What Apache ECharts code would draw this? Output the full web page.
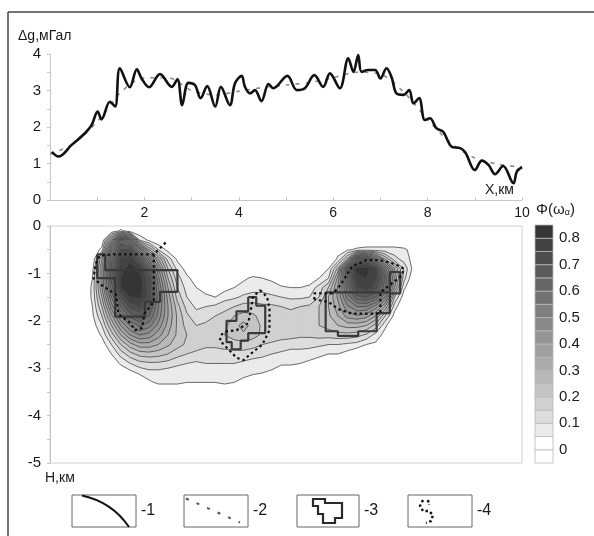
<!DOCTYPE html>
<html><head><meta charset="utf-8">
<script src="https://cdn.jsdelivr.net/npm/echarts@6/dist/echarts.min.js"></script>
<style>html,body{margin:0;padding:0;background:#fff}#c{width:594px;height:536px}</style>
</head><body><div id="c"></div>
<script>
// ---- top profile: observed (solid, -1) and model (dashed, -2) gravity, mGal
const solidX = [0.04,0.18,0.46,0.74,0.88,1.01,1.09,1.27,1.38,1.48,1.69,1.84,1.94,2.10,2.33,2.58,2.70,2.80,2.93,3.07,3.19,3.33,3.50,3.62,3.81,3.92,4.06,4.13,4.24,4.34,4.48,4.63,4.73,5.03,5.23,5.40,5.60,5.79,5.93,6.14,6.32,6.43,6.53,6.60,6.74,6.89,7.00,7.13,7.24,7.34,7.49,7.61,7.70,7.82,7.94,8.05,8.19,8.33,8.51,8.69,8.80,9.00,9.15,9.29,9.43,9.60,9.82,9.89,10.0];
const solidG = [1.32,1.19,1.51,1.83,2.05,2.42,2.21,2.69,2.56,3.61,3.09,3.58,3.33,3.09,3.45,3.10,3.31,2.60,3.21,3.15,2.79,3.12,2.56,3.10,2.60,3.20,3.40,3.10,2.92,3.01,2.71,3.18,3.06,3.40,3.01,3.06,3.42,3.10,3.47,3.06,3.88,3.51,3.97,3.51,3.56,3.56,3.33,3.61,3.35,2.92,2.88,3.01,2.65,2.79,2.19,2.24,1.96,1.87,1.46,1.42,1.30,0.82,1.08,0.96,0.71,0.93,0.46,0.78,0.90];
const dashedX = [0,0.5,1.0,1.5,2.0,2.5,3.0,3.5,4.0,4.5,5.0,5.5,6.0,6.5,7.0,7.5,8.0,8.5,9.0,9.5,10.0];
const dashedG = [1.25,1.55,2.15,2.95,3.35,3.35,3.0,2.88,2.98,3.08,3.15,3.22,3.35,3.5,3.45,2.95,2.2,1.55,1.15,0.98,0.9];

// ---- section: Phi(omega) values on a 0.2 km grid (node positions)
const gridX = [0.9,1.1,1.3,1.5,1.7,1.9,2.1,2.3,2.5,2.7,2.9,3.1,3.3,3.5,3.7,3.9,4.1,4.3,4.5,4.7,4.9,5.1,5.3,5.5,5.7,5.9,6.1,6.3,6.5,6.7,6.9,7.1,7.3,7.5,7.7];
const gridY = [-0.1,-0.3,-0.5,-0.7,-0.9,-1.1,-1.3,-1.5,-1.7,-1.9,-2.1,-2.3,-2.5,-2.7,-2.9,-3.1,-3.3];
const phi = [
 [0,0,0,0.06,0,0,0,0,0,0, 0,0,0,0,0,0,0,0,0,0, 0,0,0,0,0,0,0,0,0,0, 0,0,0,0,0],
 [0,0,0.3,0.62,0.52,0.1,0.04,0,0,0, 0,0,0,0,0,0,0,0,0,0, 0,0,0,0,0,0,0,0,0,0, 0,0,0,0,0],
 [0,0.07,0.48,0.7,0.7,0.48,0.25,0.1,0.03,0, 0,0,0,0,0,0,0,0,0,0, 0,0,0,0,0,0,0.03,0.04,0.06,0.07, 0.07,0.07,0.07,0.06,0.03],
 [0,0.25,0.58,0.76,0.78,0.68,0.5,0.3,0.13,0.04, 0,0,0,0,0,0,0,0,0,0, 0,0,0,0,0,0,0.06,0.22,0.6,0.64, 0.45,0.25,0.12,0.08,0.03],
 [0.03,0.3,0.62,0.78,0.83,0.78,0.62,0.4,0.2,0.08, 0.03,0,0,0,0,0,0,0,0,0, 0,0,0,0,0,0.05,0.22,0.64,0.83,0.83, 0.75,0.52,0.3,0.14,0.03],
 [0.05,0.3,0.62,0.8,0.85,0.83,0.7,0.46,0.25,0.12, 0.06,0.03,0,0,0,0,0.04,0.06,0.05,0.04, 0,0,0,0,0.05,0.1,0.32,0.6,0.78,0.8, 0.76,0.6,0.35,0.12,0],
 [0.06,0.3,0.57,0.8,0.85,0.84,0.72,0.5,0.3,0.15, 0.08,0.05,0.03,0,0.03,0.05,0.07,0.08,0.08,0.07, 0.06,0.05,0.05,0.07,0.12,0.2,0.36,0.58,0.74,0.78, 0.72,0.56,0.3,0.06,0],
 [0.06,0.25,0.5,0.7,0.8,0.81,0.72,0.52,0.33,0.18, 0.1,0.07,0.06,0.05,0.08,0.09,0.11,0.12,0.12,0.11, 0.1,0.09,0.09,0.1,0.15,0.25,0.36,0.52,0.63,0.65, 0.6,0.45,0.15,0.02,0],
 [0.05,0.2,0.42,0.6,0.72,0.74,0.66,0.5,0.35,0.22, 0.13,0.09,0.1,0.11,0.13,0.15,0.17,0.17,0.16,0.16, 0.15,0.14,0.15,0.16,0.2,0.25,0.33,0.44,0.5,0.5, 0.43,0.3,0.07,0,0],
 [0.04,0.15,0.33,0.5,0.62,0.66,0.6,0.48,0.35,0.24, 0.16,0.12,0.13,0.15,0.17,0.2,0.22,0.21,0.18,0.17, 0.17,0.17,0.17,0.18,0.2,0.24,0.3,0.37,0.39,0.37, 0.3,0.15,0.03,0,0],
 [0.02,0.1,0.25,0.4,0.5,0.56,0.52,0.43,0.33,0.24, 0.18,0.15,0.16,0.17,0.19,0.23,0.27,0.23,0.19,0.18, 0.18,0.18,0.17,0.18,0.2,0.22,0.25,0.27,0.27,0.25, 0.18,0.06,0,0,0],
 [0,0.06,0.17,0.3,0.4,0.45,0.43,0.37,0.3,0.24, 0.2,0.18,0.17,0.18,0.2,0.22,0.24,0.22,0.19,0.18, 0.17,0.17,0.16,0.16,0.17,0.17,0.18,0.18,0.17,0.14, 0.08,0.03,0,0,0],
 [0,0.02,0.1,0.2,0.28,0.33,0.33,0.3,0.26,0.22, 0.19,0.17,0.16,0.16,0.17,0.18,0.18,0.17,0.15,0.14, 0.13,0.12,0.12,0.12,0.11,0.1,0.1,0.09,0.08,0.05, 0.04,0,0,0,0],
 [0,0,0.05,0.12,0.18,0.22,0.23,0.22,0.2,0.17, 0.15,0.14,0.13,0.13,0.13,0.13,0.13,0.12,0.11,0.1, 0.09,0.08,0.08,0.07,0.06,0.05,0.05,0.03,0,0, 0,0,0,0,0],
 [0,0,0,0.06,0.1,0.13,0.14,0.14,0.13,0.11, 0.1,0.09,0.1,0.1,0.1,0.1,0.09,0.08,0.08,0.07, 0.06,0.06,0.05,0.04,0.03,0,0,0,0,0, 0,0,0,0,0],
 [0,0,0,0,0.03,0.06,0.08,0.08,0.07,0.07, 0.07,0.07,0.07,0.07,0.07,0.07,0.06,0.06,0.05,0.04, 0,0,0,0,0,0,0,0,0,0, 0,0,0,0,0],
 [0,0,0,0,0,0,0.04,0.06,0.06,0.06, 0.05,0.05,0.05,0.05,0.06,0.05,0.04,0,0,0, 0,0,0,0,0,0,0,0,0,0, 0,0,0,0,0]
];

// ---- colour scale (Phi levels) and tick labels
const levelEdges = [-0.05,0,0.05,0.1,0.15,0.2,0.25,0.3,0.35,0.4,0.45,0.5,0.55,0.6,0.65,0.7,0.75,0.8,0.85];
const levelColors = ['#ffffff','#ffffff','#ebebeb','#dddddd','#d0d0d0','#c4c4c4','#b8b8b8','#acacac','#a0a0a0','#959595','#8a8a8a','#7f7f7f','#727272','#666666','#5a5a5a','#4e4e4e','#424242','#353535'];
const xLabels = [2,4,6,8,10];
const cbLabels = [0,0.1,0.2,0.3,0.4,0.5,0.6,0.7,0.8];

// ---- model bodies: -3 (solid stepped outlines) and -4 (dotted outlines)
const body3Left  = [[1.0,-0.6],[1.17,-0.6],[1.17,-0.93],[2.7,-0.93],[2.7,-1.39],[2.33,-1.39],[2.33,-1.6],[2.01,-1.6],[2.01,-1.91],[1.38,-1.91],[1.38,-1.1],[1.0,-1.1],[1.0,-0.6]];
const body3Mid   = [[4.2,-1.5],[4.37,-1.5],[4.37,-1.68],[4.56,-1.68],[4.56,-2.26],[4.2,-2.26],[4.2,-2.42],[4.04,-2.42],[4.04,-2.6],[3.85,-2.6],[3.85,-2.45],[3.74,-2.45],[3.74,-2.0],[3.95,-2.0],[3.95,-1.8],[4.2,-1.8],[4.2,-1.5]];
const body3Right = [[5.84,-1.4],[7.2,-1.4],[7.2,-0.97],[7.42,-0.97],[7.42,-1.42],[7.2,-1.42],[7.2,-1.84],[6.92,-1.84],[6.92,-2.22],[6.53,-2.22],[6.53,-2.32],[6.1,-2.32],[6.1,-2.22],[5.84,-2.22],[5.84,-1.4]];
const body4Left  = [[2.45,-0.35],[2.3,-0.5],[2.2,-0.6],[2.2,-1.6],[2.0,-1.85],[1.95,-2.15],[1.8,-2.2],[1.7,-2.05],[1.45,-1.85],[1.4,-1.45],[1.1,-1.25],[0.92,-1.1],[0.97,-0.8],[1.05,-0.63],[1.3,-0.6],[2.2,-0.6]];
const body4Mid   = [[4.45,-1.35],[4.6,-1.5],[4.65,-1.75],[4.65,-2.2],[4.5,-2.5],[4.25,-2.7],[4.1,-2.83],[3.95,-2.78],[3.8,-2.62],[3.6,-2.42],[3.62,-2.3],[3.75,-2.22],[3.95,-2.2],[4.2,-2.05],[4.25,-1.8],[4.3,-1.5],[4.45,-1.35]];
const body4Right = [[5.6,-1.55],[5.6,-1.42],[6.0,-1.42],[6.15,-1.25],[6.4,-0.85],[6.7,-0.72],[7.0,-0.72],[7.3,-0.8],[7.5,-0.9],[7.45,-1.05],[7.0,-1.4],[7.0,-1.85],[6.4,-1.85],[6.1,-1.75],[5.9,-1.6],[5.6,-1.55]];

// ---- build
const FONT = '"Liberation Sans", Arial, sans-serif';
const AX = '#c6c6c6';
const TXT = '#1a1a1a';
const zip = (a, b) => a.map((v, i) => [v, b[i]]);
const nR = phi.length, nC = phi[0].length;
const stepX = gridX[1] - gridX[0];
const stepY = gridY[0] - gridY[1];
const xAt = (j) => (j >= 0 && j < nC) ? gridX[j] : gridX[0] + j * stepX;
const yAt = (i) => (i >= 0 && i < nR) ? gridY[i] : gridY[0] - i * stepY;
const valAt = (i, j) => (i >= 0 && i < nR && j >= 0 && j < nC) ? phi[i][j] : 0;
// one item per grid square (4 neighbouring nodes); outside the measured grid the field is 0
const squares = [];
for (let i = -1; i < nR; i++) for (let j = -1; j < nC; j++) {
  const mx = Math.max(valAt(i, j), valAt(i, j + 1), valAt(i + 1, j + 1), valAt(i + 1, j));
  if (mx >= levelEdges[2]) squares.push([xAt(j) + stepX / 2, yAt(i) - stepY / 2, mx, i, j]);
}
const barData = levelColors.map((c, i) => [0.5, levelEdges[i], (levelEdges[i] + levelEdges[i + 1]) / 2, levelEdges[i + 1]]);
const pieces = levelColors.map((c, i) => i === levelColors.length - 1
  ? { gte: levelEdges[i], lte: levelEdges[i + 1], color: c }
  : { gte: levelEdges[i], lt: levelEdges[i + 1], color: c });

const solidBody = (d) => ({ type: 'line', xAxisIndex: 1, yAxisIndex: 1, data: d, symbol: 'none', z: 4, silent: true,
  lineStyle: { color: '#3a3a3a', width: 2.2 } });
const dotBody = (d) => ({ type: 'line', xAxisIndex: 1, yAxisIndex: 1, data: d, symbol: 'none', z: 5, silent: true,
  lineStyle: { color: '#111', width: 2.2, type: [2.5, 3] } });

function renderContourSquare(params, api) {
  const i = api.value(3), j = api.value(4);
  const cx = [xAt(j), xAt(j + 1), xAt(j + 1), xAt(j)];
  const cy = [yAt(i), yAt(i), yAt(i + 1), yAt(i + 1)];
  const vs = [valAt(i, j), valAt(i, j + 1), valAt(i + 1, j + 1), valAt(i + 1, j)];
  const P = cx.map((x, k) => api.coord([x, cy[k]]));
  const mx = Math.max.apply(null, vs);
  const kids = [];
  for (let k = 2; k < levelColors.length; k++) {
    const L = levelEdges[k];
    if (mx < L) break;
    const pts = [], isX = [];
    for (let e = 0; e < 4; e++) {
      const f = (e + 1) % 4, a = vs[e] >= L, b = vs[f] >= L;
      if (a) { pts.push(P[e]); isX.push(false); }
      if (a !== b) {
        const t = (L - vs[e]) / (vs[f] - vs[e]);
        pts.push([P[e][0] + t * (P[f][0] - P[e][0]), P[e][1] + t * (P[f][1] - P[e][1])]);
        isX.push(true);
      }
    }
    kids.push({ type: 'polygon', z2: k, shape: { points: pts },
      style: { fill: levelColors[k], stroke: levelColors[k], lineWidth: 0.7 } });
    for (let m = 0; m < pts.length; m++) {
      const n = (m + 1) % pts.length;
      if (isX[m] && isX[n]) kids.push({ type: 'line', z2: 100,
        shape: { x1: pts[m][0], y1: pts[m][1], x2: pts[n][0], y2: pts[n][1] },
        style: { stroke: '#4a4a4a', lineWidth: 0.8 } });
    }
  }
  return { type: 'group', children: kids };
}

const chart = echarts.init(document.getElementById('c'), null, { renderer: 'canvas' });
chart.setOption({
  animation: false,
  backgroundColor: '#fff',
  textStyle: { fontFamily: FONT },
  grid: [
    { left: 50, top: 54, width: 472, height: 146 },
    { left: 50, top: 226, width: 472, height: 237, show: true, borderColor: '#d2d2d2', borderWidth: 1 },
    { left: 535, top: 225, width: 18, height: 238 }
  ],
  xAxis: [
    { gridIndex: 0, type: 'value', min: 0, max: 10, interval: 1,
      axisLine: { lineStyle: { color: AX } },
      axisTick: { show: true, inside: true, length: 3, lineStyle: { color: AX } },
      axisLabel: { formatter: v => xLabels.includes(v) ? String(v) : '', fontSize: 14, color: TXT, fontFamily: FONT, margin: 6 },
      splitLine: { show: false } },
    { gridIndex: 1, type: 'value', min: 0, max: 10, interval: 1, position: 'top',
      axisLine: { show: false }, axisTick: { show: false }, axisLabel: { show: false }, splitLine: { show: false } },
    { gridIndex: 2, type: 'value', min: 0, max: 1, show: false }
  ],
  yAxis: [
    { gridIndex: 0, type: 'value', min: 0, max: 4, interval: 1,
      axisLine: { show: true, lineStyle: { color: AX } },
      axisTick: { show: true, length: 3, lineStyle: { color: AX } },
      minorTick: { show: true, splitNumber: 2, length: 3, lineStyle: { color: AX } },
      axisLabel: { fontSize: 15, color: TXT, fontFamily: FONT, margin: 9 },
      splitLine: { show: false } },
    { gridIndex: 1, type: 'value', min: -5, max: 0, interval: 1,
      axisLine: { show: true, lineStyle: { color: AX } },
      axisTick: { show: true, length: 3, lineStyle: { color: AX } },
      minorTick: { show: true, splitNumber: 2, length: 3, lineStyle: { color: AX } },
      axisLabel: { fontSize: 15, color: TXT, fontFamily: FONT, margin: 9 },
      splitLine: { show: false } },
    { gridIndex: 2, type: 'value', min: -0.05, max: 0.85, position: 'right',
      axisLine: { show: false }, axisTick: { show: false }, splitLine: { show: false },
      axisLabel: { customValues: cbLabels, formatter: v => String(Math.round(v * 10) / 10),
        fontSize: 15, color: TXT, fontFamily: FONT, margin: 6 } }
  ],
  visualMap: [{ type: 'piecewise', show: false, dimension: 2, seriesIndex: [3], pieces: pieces }],
  series: [
    { type: 'line', xAxisIndex: 0, yAxisIndex: 0, data: zip(solidX, solidG), symbol: 'none', smooth: 0.35, z: 4,
      lineStyle: { color: '#111', width: 2.6 } },
    { type: 'line', xAxisIndex: 0, yAxisIndex: 0, data: zip(dashedX, dashedG), symbol: 'none', smooth: 0.3, z: 3,
      lineStyle: { color: '#8c8c8c', width: 1.6, type: [4, 6] } },
    { type: 'custom', xAxisIndex: 1, yAxisIndex: 1, data: squares, encode: { x: 0, y: 1 }, z: 1, silent: true,
      renderItem: renderContourSquare },
    { type: 'custom', xAxisIndex: 2, yAxisIndex: 2, data: barData, encode: { x: 0, y: [1, 3] }, z: 2, silent: true,
      renderItem: function (params, api) {
        const p0 = api.coord([0, api.value(3)]);
        const p1 = api.coord([1, api.value(1)]);
        return { type: 'rect', shape: { x: p0[0], y: p0[1], width: p1[0] - p0[0], height: p1[1] - p0[1] },
          style: { fill: api.visual('color'), stroke: '#b8b8b8', lineWidth: 0.8 } };
      } },
    solidBody(body3Left), solidBody(body3Mid), solidBody(body3Right),
    dotBody(body4Left), dotBody(body4Mid), dotBody(body4Right)
  ],
  graphic: [
    { type: 'line', shape: { x1: 8, y1: 12, x2: 594, y2: 12 }, style: { stroke: '#444', lineWidth: 1.5 } },
    { type: 'line', shape: { x1: 8, y1: 12, x2: 8, y2: 536 }, style: { stroke: '#444', lineWidth: 1.5 } },
    { type: 'text', left: 18, top: 29, style: { text: 'Δg,мГал', font: '14px ' + FONT, fill: TXT } },
    { type: 'text', left: 485, top: 183, style: { text: 'X,км', font: '14px ' + FONT, fill: TXT } },
    { type: 'text', left: 45, top: 471, style: { text: 'Н,км', font: '14px ' + FONT, fill: TXT } },
    { type: 'text', left: 536, top: 202, style: { text: 'Φ(ω{s|α})', font: '15px ' + FONT, fill: TXT,
        rich: { s: { fontSize: 9, fontFamily: FONT, fill: TXT, padding: [7, 0, 0, 0] } } } },
    // legend boxes
    { type: 'rect', shape: { x: 72, y: 495, width: 64, height: 32 }, style: { fill: '#fff', stroke: '#666', lineWidth: 1 } },
    { type: 'bezierCurve', shape: { x1: 82, y1: 495.5, cpx1: 112, cpy1: 502, x2: 129, y2: 527 }, style: { stroke: '#111', lineWidth: 2, fill: null } },
    { type: 'text', left: 141, top: 503, style: { text: '-1', font: '16px ' + FONT, fill: TXT } },
    { type: 'rect', shape: { x: 184, y: 495, width: 64, height: 32 }, style: { fill: '#fff', stroke: '#666', lineWidth: 1 } },
    { type: 'polyline', shape: { points: [[186, 498.5], [240, 522.5]] }, style: { stroke: '#555', lineWidth: 2, lineDash: [3, 8.5], fill: null } },
    { type: 'text', left: 253, top: 503, style: { text: '-2', font: '16px ' + FONT, fill: TXT } },
    { type: 'rect', shape: { x: 297, y: 495, width: 62, height: 32 }, style: { fill: '#fff', stroke: '#666', lineWidth: 1 } },
    { type: 'polygon', shape: { points: [[313,499],[325,499],[325,503],[342,503],[342,518],[335,518],[335,523],[323,523],[323,514],[318,514],[318,506],[313,506]] },
      style: { stroke: '#2a2a2a', lineWidth: 2.2, fill: null } },
    { type: 'text', left: 364, top: 503, style: { text: '-3', font: '16px ' + FONT, fill: TXT } },
    { type: 'rect', shape: { x: 408, y: 495, width: 64, height: 32 }, style: { fill: '#fff', stroke: '#666', lineWidth: 1 } },
    { type: 'polyline', shape: { points: [[423, 500], [420, 506], [423, 511], [429, 511], [433, 515], [431, 521], [426, 523]] },
      style: { stroke: '#111', lineWidth: 2.4, lineDash: [2.5, 2.5], fill: null } },
    { type: 'polyline', shape: { points: [[428, 500], [429, 505]] }, style: { stroke: '#111', lineWidth: 2.4, lineDash: [2.5, 2], fill: null } },
    { type: 'text', left: 477, top: 503, style: { text: '-4', font: '16px ' + FONT, fill: TXT } }
  ]
});
</script>
</body></html>
